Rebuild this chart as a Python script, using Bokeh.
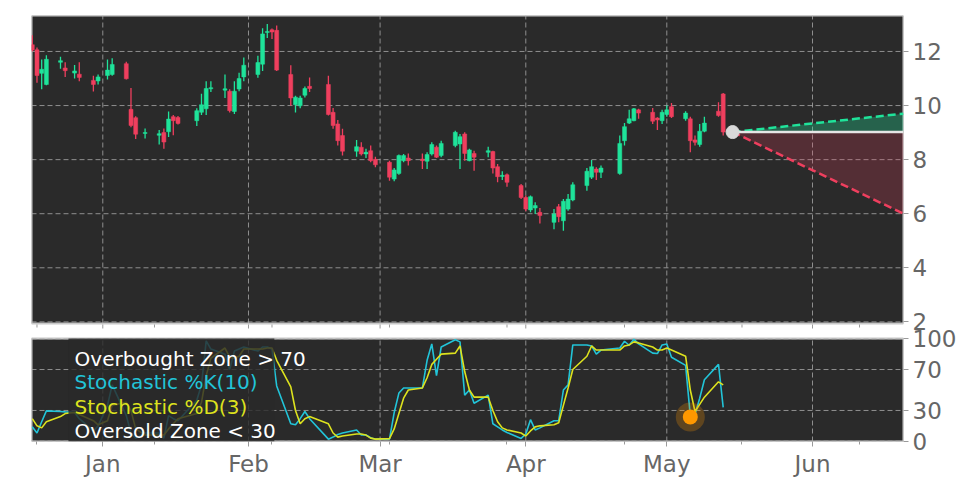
import pandas as pd
from bokeh.plotting import figure
from bokeh.models import (Range1d, FixedTicker, DatetimeTickFormatter, BoxAnnotation, Label,
                          CustomJSTickFormatter)
from bokeh.embed import file_html
from bokeh.resources import INLINE

# ---------------- data ----------------
dates = [
    "2024-12-17", "2024-12-18", "2024-12-19", "2024-12-20", "2024-12-23", "2024-12-24", "2024-12-26", "2024-12-27",
    "2024-12-30", "2024-12-31",
    "2025-01-02", "2025-01-03", "2025-01-06", "2025-01-07", "2025-01-08", "2025-01-10", "2025-01-13", "2025-01-14",
    "2025-01-15", "2025-01-16", "2025-01-17", "2025-01-21", "2025-01-22", "2025-01-23", "2025-01-24", "2025-01-27",
    "2025-01-28", "2025-01-29", "2025-01-30", "2025-01-31",
    "2025-02-03", "2025-02-04", "2025-02-05", "2025-02-06", "2025-02-07", "2025-02-10", "2025-02-11", "2025-02-12",
    "2025-02-13", "2025-02-14", "2025-02-18", "2025-02-19", "2025-02-20", "2025-02-21", "2025-02-24", "2025-02-25",
    "2025-02-26", "2025-02-27", "2025-02-28",
    "2025-03-03", "2025-03-04", "2025-03-05", "2025-03-06", "2025-03-07", "2025-03-10", "2025-03-11", "2025-03-12",
    "2025-03-13", "2025-03-14", "2025-03-17", "2025-03-18", "2025-03-19", "2025-03-20", "2025-03-21", "2025-03-24",
    "2025-03-25", "2025-03-26", "2025-03-27", "2025-03-28", "2025-03-31",
    "2025-04-01", "2025-04-02", "2025-04-03", "2025-04-04", "2025-04-07", "2025-04-08", "2025-04-09", "2025-04-10",
    "2025-04-11", "2025-04-14", "2025-04-15", "2025-04-16", "2025-04-17", "2025-04-21", "2025-04-22", "2025-04-23",
    "2025-04-24", "2025-04-25", "2025-04-28", "2025-04-29", "2025-04-30",
    "2025-05-01", "2025-05-02", "2025-05-05", "2025-05-06", "2025-05-07", "2025-05-08", "2025-05-09", "2025-05-12",
    "2025-05-13",
]
opens = [
    12.25, 12.06, 11.19, 10.78, 11.60, 11.39, 11.20, 11.16, 10.93, 10.91,
    11.11, 11.15, 11.55, 9.86, 9.55, 8.97, 8.90, 9.00, 9.03, 9.59, 9.56, 9.44, 9.75, 9.88, 10.62, 10.57,
    10.53, 9.78, 10.61, 11.06,
    11.15, 11.53, 12.70, 12.80, 12.78, 11.15, 10.03, 9.99, 10.38, 10.71, 10.78, 9.75, 9.32, 8.89, 8.31, 8.46,
    8.21, 8.33, 8.01,
    7.90, 7.28, 7.49, 7.96, 8.06, 8.02, 7.94, 8.21, 8.46, 8.15, 8.52, 8.58, 8.95, 7.96, 8.23, 8.27,
    8.30, 7.74, 7.38, 7.44, 7.04,
    6.60, 6.14, 6.21, 6.05, 5.68, 6.26, 5.74, 6.17, 6.51, 7.04, 7.35, 7.65, 7.53, 7.49, 8.70, 9.35,
    9.44, 9.84, 9.75, 9.54, 9.44,
    9.67, 9.96, 9.51, 9.51, 8.73, 8.56, 9.05, 9.79, 10.43,
]
highs = [
    12.60, 12.15, 11.70, 11.86, 11.80, 11.60, 11.50, 11.60, 11.10, 11.15,
    11.70, 11.75, 11.62, 10.65, 9.60, 9.15, 9.10, 9.15, 9.78, 9.65, 9.61, 9.90, 10.44, 10.90, 10.90, 11.15,
    10.60, 10.90, 11.21, 11.78,
    11.84, 12.86, 13.02, 12.85, 12.96, 11.49, 10.36, 10.36, 10.70, 11.04, 11.10, 9.91, 9.47, 9.14, 8.73, 8.64,
    8.40, 8.52, 8.11,
    7.96, 7.69, 8.19, 8.21, 8.23, 8.23, 8.27, 8.64, 8.52, 8.70, 9.07, 8.95, 9.01, 8.40, 8.33, 8.48,
    8.33, 7.84, 7.57, 7.49, 7.10,
    6.67, 6.67, 6.42, 6.21, 6.17, 6.36, 6.54, 6.73, 7.16, 7.69, 7.99, 7.72, 7.78, 8.89, 9.35, 9.84,
    9.91, 9.88, 9.91, 9.57, 9.84,
    10.00, 10.09, 9.79, 9.59, 8.89, 9.32, 9.59, 10.12, 10.46,
]
lows = [
    12.00, 10.84, 10.60, 10.75, 11.36, 11.06, 11.00, 10.90, 10.52, 10.78,
    10.96, 11.10, 10.96, 9.20, 8.76, 8.78, 8.56, 8.40, 8.84, 8.90, 9.30, 9.24, 9.65, 9.65, 10.50, 10.28,
    9.74, 9.69, 10.53, 10.90,
    11.03, 11.28, 12.50, 12.46, 11.28, 9.99, 9.74, 9.90, 10.30, 10.50, 9.63, 9.14, 8.52, 8.15, 8.11, 8.15,
    8.06, 7.90, 7.72,
    7.22, 7.20, 7.44, 7.90, 7.78, 7.65, 7.65, 8.15, 8.06, 8.09, 8.46, 7.65, 7.96, 7.94, 7.59, 8.09,
    7.49, 7.16, 7.25, 7.00, 6.54,
    6.09, 6.05, 5.99, 5.64, 5.43, 5.68, 5.37, 6.11, 6.46, 6.85, 7.28, 7.25, 7.32, 7.44, 8.52, 9.32,
    9.42, 9.51, 9.32, 9.10, 9.32,
    9.59, 9.54, 9.44, 8.27, 8.52, 8.48, 9.01, 9.59, 8.89,
]
closes = [
    12.05, 11.11, 11.34, 11.71, 11.66, 11.29, 11.28, 11.04, 10.78, 11.06,
    11.31, 11.52, 10.99, 9.26, 8.94, 9.00, 8.96, 8.65, 9.50, 9.44, 9.34, 9.81, 10.03, 10.63, 10.66, 10.62,
    9.81, 10.53, 11.00, 11.49,
    11.59, 12.65, 12.74, 12.72, 11.31, 10.28, 10.31, 10.28, 10.63, 10.63, 9.67, 9.26, 8.70, 8.31, 8.48, 8.21,
    8.27, 7.96, 7.81,
    7.35, 7.62, 8.15, 8.15, 7.96, 7.96, 8.19, 8.56, 8.09, 8.60, 9.01, 8.85, 8.23, 8.36, 8.09, 8.33,
    7.69, 7.37, 7.42, 7.16, 6.60,
    6.17, 6.63, 6.30, 5.93, 5.99, 5.89, 6.46, 6.54, 7.07, 7.57, 7.74, 7.53, 7.69, 8.60, 9.22, 9.51,
    9.88, 9.72, 9.42, 9.47, 9.75,
    9.84, 9.59, 9.72, 8.70, 8.64, 9.05, 9.35, 9.63, 9.02,
]
stoch_k = [
    14, 8, 19, 29.6, 29, 28.6, 28, 22, 10, 15,
    35, 55, 25, 8, 3, 8, 8, 3, 25, 22, 20, 40, 55, 98, 90, 85,
    70, 88, 90, 92,
    88, 92, 92, 90, 54, 17, 16, 22, 29, 22, 2, 4, 6.6, 8, 11, 6,
    6, 3.3, 2,
    2, 28, 47, 52, 52, 52, 79, 95, 64, 92, 99, 97, 45, 50, 37, 45,
    17, 14, 11, 8.5, 2.7,
    7, 21, 11, 13, 20, 20, 50, 55, 94, 94, 93, 85, 89, 91, 97.6, 93.7,
    99.6, 95, 86, 85.6, 94,
    95, 82, 74, 25, 26, 42, 60, 75, 33,
]
stoch_d = [
    22, 15, 13, 19, 24, 27, 28, 26, 20, 16,
    20, 35, 38, 30, 12, 6, 6, 6, 12, 17, 22, 27, 38, 64, 81, 91,
    82, 81, 83, 90,
    90, 90, 91, 91, 79, 53, 30, 17, 22, 24, 17, 8, 4, 5, 7, 7,
    6, 3, 2,
    2.5, 12, 27, 42, 50, 52, 62, 75, 80, 85, 86, 93, 68, 50, 43, 43,
    30, 19, 13, 11, 8,
    5, 10, 14, 15, 16, 18, 35, 52, 70, 83, 93, 89, 89, 89, 93, 94,
    97, 96, 92, 89, 89,
    91, 89, 83, 50, 29, 36, 43, 58, 55,
]
forecast_dates = ["2025-05-15", "2025-06-20 08:40"]
forecast_base = [9.02, 9.02]
forecast_high = [9.02, 9.70]
forecast_low = [9.02, 6.00]
signal_date = ["2025-05-06"]
signal_value = [23.7]
month_ticks = ["2025-01-01", "2025-02-01", "2025-03-01", "2025-04-01", "2025-05-01", "2025-06-01"]
minor_tick_dates = ["2024-12-18", "2025-01-12", "2025-02-06", "2025-03-03", "2025-03-28", "2025-04-22",
                    "2025-05-17", "2025-06-11"]
price_ticks = [2, 4, 6, 8, 10, 12]
stoch_ticks = [0, 30, 70, 100]
legend_labels = ["Overbought Zone > 70", "Stochastic %K(10)", "Stochastic %D(3)", "Oversold Zone < 30"]

# ---------------- layout constants ----------------
def ms(s):
    return pd.Timestamp(s).value / 1e6

DAY = 86400000.0
x = [ms(d) for d in dates]
X0 = ms("2024-12-16 20:00")
X1 = ms("2025-06-20 08:40")

MAIN_LO, MAIN_HI = 1.94, 13.33      # visible price window of the upper panel
LOW_LO, LOW_HI = -0.3, 100.3        # visible window of the stochastic panel
H_MAIN, H_GAP, H_LOW = 308, 15, 103  # pixel heights
H = H_MAIN + H_GAP + H_LOW
PX_MAIN = H_MAIN / (MAIN_HI - MAIN_LO)
PX_LOW = H_LOW / (LOW_HI - LOW_LO)
MAIN_BOTTOM = MAIN_HI - H / PX_MAIN
LOW_TOP = LOW_LO + H / PX_LOW


def low_to_main(v):
    return MAIN_BOTTOM + (v - LOW_LO) * PX_LOW / PX_MAIN


BG = "#2a2a2a"
GREEN = "#1fe39a"
RED = "#ef3f5e"
CYAN = "#22c4d8"
YELLOW = "#dde21e"
TICK_COL = "#666666"
SPINE = "#c8c8c8"
GRID = "#b0b0b0"
FONT = "DejaVu Sans"

p = figure(x_axis_type="datetime", y_axis_location="right", frame_width=872, frame_height=H,
           x_range=Range1d(X0, X1), y_range=Range1d(MAIN_BOTTOM, MAIN_HI),
           output_backend="svg", toolbar_location=None, min_border_left=31, min_border_top=15,
           min_border_right=10, min_border_bottom=0)
p.extra_y_ranges = {"low": Range1d(LOW_LO, LOW_TOP)}
p.background_fill_color = "white"
p.border_fill_color = "white"
p.outline_line_color = None
p.xgrid.visible = False
p.ygrid.visible = False

# axes
p.xaxis.ticker = FixedTicker(ticks=[ms(t) for t in month_ticks],
                             minor_ticks=[ms(t) for t in minor_tick_dates])
p.xaxis.formatter = DatetimeTickFormatter(days="%b", months="%b", years="%b", hours="%b",
                                          minutes="%b", seconds="%b", milliseconds="%b",
                                          minsec="%b", hourmin="%b")
p.yaxis.ticker = FixedTicker(ticks=list(price_ticks) + [low_to_main(v) for v in stoch_ticks])
p.yaxis.formatter = CustomJSTickFormatter(
    args=dict(split=MAIN_LO - 0.05, mb=MAIN_BOTTOM, k=PX_MAIN / PX_LOW, lo=LOW_LO),
    code="if (tick >= split) { return tick.toFixed(0); } return Math.round(lo + (tick - mb) * k).toString();")
for ax in (p.xaxis, p.yaxis):
    ax.axis_line_color = None
    ax.major_tick_line_color = "#9a9a9a"
    ax.minor_tick_line_color = "#9a9a9a"
    ax.major_tick_in = 0
    ax.major_tick_out = 5
    ax.minor_tick_in = 0
    ax.minor_tick_out = 3
    ax.major_label_text_font = FONT
    ax.major_label_text_font_size = "23px"
    ax.major_label_text_color = TICK_COL
    ax.major_label_standoff = 4
p.yaxis.minor_tick_line_color = None

# panel backgrounds
p.quad(left=[X0], right=[X1], bottom=[MAIN_LO], top=[MAIN_HI], fill_color=BG,
       line_color=SPINE, line_width=2)
p.quad(left=[X0], right=[X1], bottom=[LOW_LO], top=[LOW_HI], fill_color=BG,
       line_color=SPINE, line_width=2, y_range_name="low")

# grids
mt = [ms(t) for t in month_ticks]
p.segment(x0=mt, y0=[MAIN_LO] * len(mt), x1=mt, y1=[MAIN_HI] * len(mt),
          line_color=GRID, line_alpha=0.75, line_dash="5 3", line_width=1)
p.segment(x0=[X0] * len(price_ticks), y0=price_ticks, x1=[X1] * len(price_ticks), y1=price_ticks,
          line_color=GRID, line_alpha=0.75, line_dash="5 3", line_width=1)
p.segment(x0=mt, y0=[LOW_LO] * len(mt), x1=mt, y1=[LOW_HI] * len(mt),
          line_color=GRID, line_alpha=0.75, line_dash="5 3", line_width=1, y_range_name="low")
p.segment(x0=[X0] * len(stoch_ticks), y0=stoch_ticks, x1=[X1] * len(stoch_ticks), y1=stoch_ticks,
          line_color=GRID, line_alpha=0.75, line_dash="5 3", line_width=1, y_range_name="low")

# x tick marks under the upper panel
nt = [ms(t) for t in minor_tick_dates]
p.segment(x0=mt, y0=[MAIN_LO - 1 / PX_MAIN] * len(mt), x1=mt, y1=[MAIN_LO - 5 / PX_MAIN] * len(mt),
          line_color="#9a9a9a", line_width=1)
p.segment(x0=nt, y0=[MAIN_LO - 1 / PX_MAIN] * len(nt), x1=nt, y1=[MAIN_LO - 4 / PX_MAIN] * len(nt),
          line_color="#9a9a9a", line_width=1)

# candles
colors = [GREEN if c >= o else RED for o, c in zip(opens, closes)]
tops = [max(o, c) for o, c in zip(opens, closes)]
bots = [min(o, c) for o, c in zip(opens, closes)]
p.segment(x0=x, y0=lows, x1=x, y1=highs, color=colors, line_width=1.3)
p.vbar(x=x, width=0.85 * DAY, top=tops, bottom=bots, fill_color=colors, line_color=colors, line_width=0.5)

# forecast cone
fx = [ms(d) for d in forecast_dates]
p.varea(x=fx, y1=forecast_base, y2=forecast_high, fill_color=GREEN, fill_alpha=0.3)
p.varea(x=fx, y1=forecast_base, y2=forecast_low, fill_color=RED, fill_alpha=0.22)
p.line(fx, forecast_high, line_color=GREEN, line_width=2.5, line_dash="8 4")
p.line(fx, forecast_low, line_color=RED, line_width=2.5, line_dash="8 4")
p.line(fx, forecast_base, line_color="#e6e6e6", line_width=2.5)
p.scatter([fx[0]], [forecast_base[0]], size=13, fill_color="#d9d9d9", line_color="#d9d9d9")

# stochastic panel
p.line(x, stoch_k, line_color=CYAN, line_width=1.6, y_range_name="low")
p.line(x, stoch_d, line_color=YELLOW, line_width=1.6, y_range_name="low")
sx = [ms(d) for d in signal_date]
p.scatter(sx, signal_value, size=29, fill_color="#ff9800", fill_alpha=0.25, line_color=None,
          y_range_name="low")
p.scatter(sx, signal_value, size=15, fill_color="#ff9800", line_color=None, y_range_name="low")

p.add_layout(BoxAnnotation(left=ms("2024-12-24 16:48"), right=ms("2025-02-06 12:00"),
                           bottom=LOW_LO, top=LOW_HI, y_range_name="low",
                           fill_color=BG, fill_alpha=0.82, line_color=None))
label_cols = ["white", CYAN, YELLOW, "white"]
label_y = [80.5, 57.5, 33.0, 10.0]
for txt, col, yy in zip(legend_labels, label_cols, label_y):
    p.add_layout(Label(x=ms("2024-12-26 00:00"), y=yy, y_range_name="low", text=txt,
                       text_color=col, text_font=FONT, text_font_size="20px",
                       text_baseline="alphabetic"))

open("out.html", "w").write(file_html(p, INLINE))
